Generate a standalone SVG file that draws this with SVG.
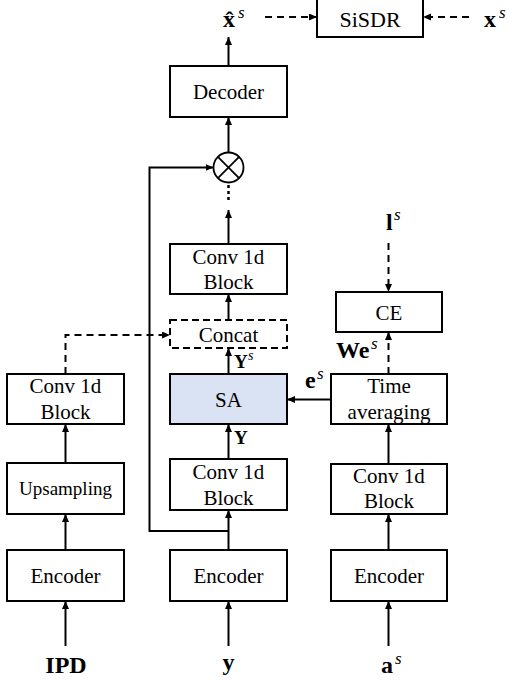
<svg xmlns="http://www.w3.org/2000/svg" width="507" height="681" viewBox="0 0 507 681">
<style>
.box{fill:#fff;stroke:#000;stroke-width:2}
.sa{fill:#dae3f3;stroke:#000;stroke-width:2}
.dbox{fill:none;stroke:#000;stroke-width:2;stroke-dasharray:7 4}
.t{font-family:"Liberation Serif","Times New Roman",serif;font-size:21px;text-anchor:middle;fill:#000}
.m{font-family:"Liberation Serif","Times New Roman",serif;font-weight:bold;font-size:24px;fill:#000}
.sup{font-family:"Liberation Serif","Times New Roman",serif;font-style:italic;font-size:17px;fill:#000}
.ln{fill:none;stroke:#000;stroke-width:2}
.ds{fill:none;stroke:#000;stroke-width:2;stroke-dasharray:7 5}
</style>
<defs>
<marker id="ah" markerUnits="userSpaceOnUse" markerWidth="9" markerHeight="8" refX="8" refY="3.5" orient="auto">
<path d="M0,0 L8,3.5 L0,7 z" fill="#000"/>
</marker>
</defs>

<g id="connectors">
<line class="ln" x1="228.5" y1="66" x2="228.5" y2="37" marker-end="url(#ah)"/>
<line class="ds" x1="265" y1="17" x2="317" y2="17" marker-end="url(#ah)"/>
<line class="ds" x1="469" y1="17" x2="423" y2="17" marker-end="url(#ah)"/>
<line class="ln" x1="228.5" y1="152.5" x2="228.5" y2="117" marker-end="url(#ah)"/>
<polyline class="ln" points="228.5,531 149.5,531 149.5,167.5 213.5,167.5" marker-end="url(#ah)"/>
<line x1="228.5" y1="185" x2="228.5" y2="201" stroke="#000" stroke-width="2.5" stroke-dasharray="3 3"/>
<line class="ln" x1="228.5" y1="244" x2="228.5" y2="210" marker-end="url(#ah)"/>
<line class="ln" x1="228.5" y1="320" x2="228.5" y2="294" marker-end="url(#ah)"/>
<line class="ln" x1="228.5" y1="374" x2="228.5" y2="348" marker-end="url(#ah)"/>
<line class="ln" x1="228.5" y1="459" x2="228.5" y2="424" marker-end="url(#ah)"/>
<line class="ln" x1="228.5" y1="550" x2="228.5" y2="510" marker-end="url(#ah)"/>
<line class="ln" x1="228.5" y1="646" x2="228.5" y2="601" marker-end="url(#ah)"/>
<line class="ln" x1="65.5" y1="646" x2="65.5" y2="601" marker-end="url(#ah)"/>
<line class="ln" x1="65.5" y1="550" x2="65.5" y2="514" marker-end="url(#ah)"/>
<line class="ln" x1="65.5" y1="463" x2="65.5" y2="424" marker-end="url(#ah)"/>
<polyline class="ds" points="65.5,374 65.5,335 170,335" marker-end="url(#ah)"/>
<line class="ln" x1="388.5" y1="646" x2="388.5" y2="601" marker-end="url(#ah)"/>
<line class="ln" x1="388.5" y1="550" x2="388.5" y2="514" marker-end="url(#ah)"/>
<line class="ln" x1="388.5" y1="464" x2="388.5" y2="424" marker-end="url(#ah)"/>
<line class="ln" x1="331" y1="399.5" x2="287" y2="399.5" marker-end="url(#ah)"/>
<line class="ds" x1="388.5" y1="374" x2="388.5" y2="332" marker-end="url(#ah)"/>
<line class="ds" x1="388.5" y1="243" x2="388.5" y2="292" marker-end="url(#ah)"/>
</g>

<g id="sisdr"><rect class="box" x="317" y="-2" width="106" height="39"/><text class="t" x="370" y="27" style="font-size:22px">SiSDR</text></g>
<g id="decoder"><rect class="box" x="170" y="66" width="117" height="51"/><text class="t" x="228.5" y="99">Decoder</text></g>
<g id="multiply">
<circle cx="228.5" cy="167.5" r="15" fill="#fff" stroke="#000" stroke-width="1.8"/>
<line x1="217.9" y1="156.9" x2="239.1" y2="178.1" stroke="#000" stroke-width="1.8"/>
<line x1="239.1" y1="156.9" x2="217.9" y2="178.1" stroke="#000" stroke-width="1.8"/>
</g>
<g id="conv-mid-top"><rect class="box" x="170" y="244" width="117" height="50"/><text class="t" x="228.5" y="264">Conv 1d</text><text class="t" x="228.5" y="289">Block</text></g>
<g id="concat"><rect class="dbox" x="170" y="320" width="117" height="28"/><text class="t" x="228.5" y="342">Concat</text></g>
<g id="sa"><rect class="sa" x="170" y="374" width="117" height="50"/><text class="t" x="228.5" y="407">SA</text></g>
<g id="conv-left"><rect class="box" x="7" y="374" width="117" height="50"/><text class="t" x="65.5" y="393">Conv 1d</text><text class="t" x="65.5" y="419">Block</text></g>
<g id="time-avg"><rect class="box" x="331" y="374" width="116" height="50"/><text class="t" x="389" y="393">Time</text><text class="t" x="389" y="419">averaging</text></g>
<g id="ce"><rect class="box" x="336" y="292" width="106" height="40"/><text class="t" x="389" y="320">CE</text></g>
<g id="upsampling"><rect class="box" x="7" y="463" width="117" height="51"/><text class="t" x="65.5" y="495" style="font-size:19px">Upsampling</text></g>
<g id="conv-mid-low"><rect class="box" x="170" y="459" width="117" height="51"/><text class="t" x="228.5" y="479">Conv 1d</text><text class="t" x="228.5" y="505">Block</text></g>
<g id="conv-right"><rect class="box" x="331" y="464" width="116" height="50"/><text class="t" x="389" y="483">Conv 1d</text><text class="t" x="389" y="508">Block</text></g>
<g id="enc-left"><rect class="box" x="7" y="550" width="117" height="51"/><text class="t" x="65.5" y="583">Encoder</text></g>
<g id="enc-mid"><rect class="box" x="170" y="550" width="117" height="51"/><text class="t" x="228.5" y="583">Encoder</text></g>
<g id="enc-right"><rect class="box" x="331" y="550" width="116" height="51"/><text class="t" x="389" y="583">Encoder</text></g>

<g id="labels">
<text class="m" x="223" y="27">x̂</text><text class="sup" x="238" y="18">s</text>
<text class="m" x="484" y="27">x</text><text class="sup" x="499" y="18">s</text>
<text class="m" x="386" y="230">l</text><text class="sup" x="394" y="220">s</text>
<text class="m" x="336" y="358">We</text><text class="sup" x="371" y="349">s</text>
<text class="m" x="305" y="388">e</text><text class="sup" x="317" y="379">s</text>
<text class="m" x="234" y="368" style="font-size:19px">Y</text><text class="sup" x="248" y="360" style="font-size:14px">s</text>
<text class="m" x="234" y="444" style="font-size:19px">Y</text>
<text class="m" x="66" y="673" text-anchor="middle">IPD</text>
<text class="m" x="228.5" y="670" text-anchor="middle">y</text>
<text class="m" x="381" y="673">a</text><text class="sup" x="395" y="664">s</text>
</g>
</svg>
